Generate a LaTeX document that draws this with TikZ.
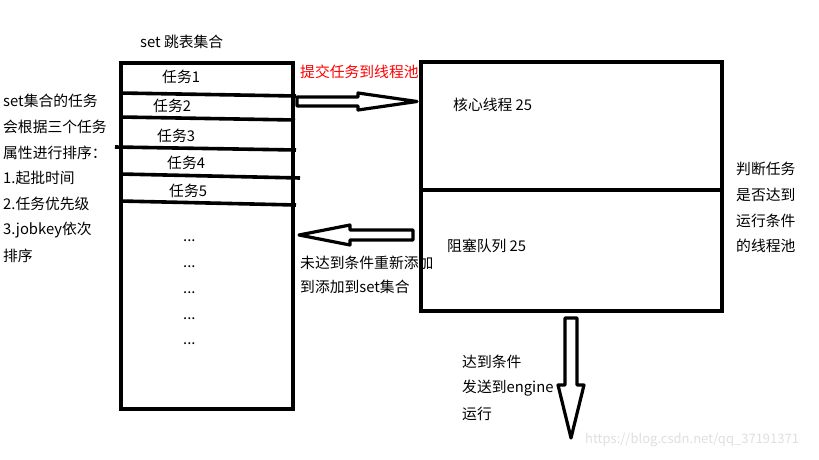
\documentclass[tikz,border=0pt]{standalone}
\usepackage{fontspec}
\setmainfont{Noto Sans CJK SC}
\tikzset{
  box/.style={draw, line width=4pt},
  handline/.style={line width=3.6pt},
  blockarrow/.style={draw, fill=white, line width=3.2pt, line join=round},
  txt/.style={anchor=west, inner sep=0pt, font=\fontsize{14.8}{17}\selectfont},
  redtxt/.style={txt, text=red},
  watermark/.style={anchor=west, inner sep=0pt, text=gray!25, font=\fontsize{13}{15}\selectfont}
}
\begin{document}
\begin{tikzpicture}[x=1pt, y=-1pt]
  \useasboundingbox (0,0) rectangle (819,460);
  \fill[white] (0,0) rectangle (819,460);

  \node[txt] (title) at (140,42) {set 跳表集合};
  \draw[box] (121,63.5) rectangle (293,409);
  \draw[handline] (120,93) -- (296,96);
  \draw[handline] (120,117) -- (295,120);
  \draw[handline] (115,147) -- (296,150);
  \draw[handline] (120,174) -- (300,178);
  \draw[handline] (120,201) -- (296,205);
  \node[txt] (task1) at (162,77) {任务1};
  \node[txt] (task2) at (153,106) {任务2};
  \node[txt] (task3) at (157,136) {任务3};
  \node[txt] (task4) at (167,163) {任务4};
  \node[txt] (task5) at (169,191) {任务5};
  \foreach \y [count=\i] in {241,267,293,319,344}
    \node[txt] (dots\i) at (183,\y) {...};

  \node[txt] (sort1) at (3,101) {set集合的任务};
  \node[txt] (sort2) at (3,127) {会根据三个任务};
  \node[txt] (sort3) at (3,153) {属性进行排序：};
  \node[txt] (sort4) at (3,178) {1.起批时间};
  \node[txt] (sort5) at (3,204) {2.任务优先级};
  \node[txt] (sort6) at (3,230) {3.jobkey依次};
  \node[txt] (sort7) at (3,256) {排序};

  \draw[box] (421,62) rectangle (722,311);
  \draw[box] (421,190) -- (722,190);
  \node[txt] (core) at (453,105) {核心线程 25};
  \node[txt] (queue) at (447,246) {阻塞队列 25};

  \node[redtxt] (submit) at (300,72) {提交任务到线程池};
  \coordinate (submittail) at (297,97);
  \draw[blockarrow] (submittail) -- ++(61,0) -- ++(0,-4) -- ++(59,8.5) -- ++(-59,8.5)
    -- ++(0,-4) -- ++(-61,0) -- cycle;

  \coordinate (backtail) at (413,230);
  \draw[blockarrow] (backtail) -- ++(-63,0) -- ++(0,-5) -- ++(-51,10) -- ++(51,10)
    -- ++(0,-5) -- ++(63,0) -- cycle;
  \node[txt] (back1) at (300,263) {未达到条件重新添加};
  \node[txt] (back2) at (300,287) {到添加到set集合};

  \node[txt] (judge1) at (736,169) {判断任务};
  \node[txt] (judge2) at (736,195) {是否达到};
  \node[txt] (judge3) at (736,221) {运行条件};
  \node[txt] (judge4) at (736,246) {的线程池};

  \coordinate (sendtail) at (565,318);
  \draw[blockarrow] (sendtail) -- ++(0,67) -- ++(-7,0) -- ++(13,53) -- ++(13,-53)
    -- ++(-7,0) -- ++(0,-67) -- cycle;
  \node[txt] (send1) at (462,362) {达到条件};
  \node[txt] (send2) at (462,388) {发送到engine};
  \node[txt] (send3) at (462,414) {运行};

  \node[watermark] (url) at (585,440) {https://blog.csdn.net/qq\_37191371};
\end{tikzpicture}
\end{document}
